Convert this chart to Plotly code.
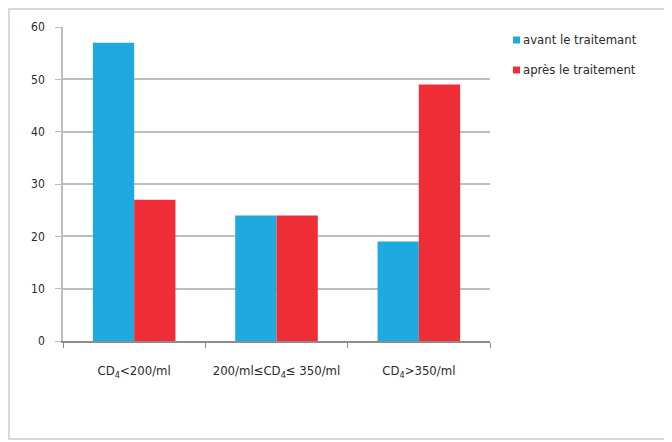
import plotly.graph_objects as go

categories = ["CD<sub>4</sub>&lt;200/ml", "200/ml≤CD<sub>4</sub>≤ 350/ml", "CD<sub>4</sub>&gt;350/ml"]
series_names = ["avant le traitemant", "après le traitement"]
avant = [57, 24, 19]
apres = [27, 24, 49]
colors = ["#1EA9E1", "#EE2D37"]
y_ticks = [0, 10, 20, 30, 40, 50, 60]

FONT = "DejaVu Sans Condensed, Liberation Sans Narrow, sans-serif"
TXT = "#2B2B2B"

OFF = 8  # page body margin offset
W, H = 672, 442
L, R, T, B = 63 - OFF, 182 + OFF, 27 - OFF, 101 + OFF
pw, ph = W - L - R, H - T - B

def px_x(px):
    return (px - OFF - L) / pw

def px_y(py):
    return (H - B - (py - OFF)) / ph

fig = go.Figure()
for name, vals, col in zip(series_names, [avant, apres], colors):
    fig.add_trace(go.Bar(x=categories, y=vals, name=name, marker=dict(color=col, line=dict(width=0)),
                         showlegend=False))

shapes = []
shapes.append(dict(type="rect", xref="paper", yref="paper",
                   x0=px_x(9), x1=px_x(668), y0=px_y(439), y1=px_y(9),
                   line=dict(color="#D9D9D9", width=2), fillcolor="rgba(0,0,0,0)", layer="below"))

annotations = []
leg_y = [40, 70]
for i, (name, col) in enumerate(zip(series_names, colors)):
    cy = leg_y[i]
    shapes.append(dict(type="rect", xref="paper", yref="paper",
                       x0=px_x(513), x1=px_x(520), y0=px_y(cy + 3.5), y1=px_y(cy - 3.5),
                       fillcolor=col, line=dict(width=0)))
    annotations.append(dict(xref="paper", yref="paper", x=px_x(521), y=px_y(cy),
                            xanchor="left", yanchor="middle", showarrow=False,
                            text=name, font=dict(family=FONT, size=13, color=TXT)))

fig.update_layout(
    width=W, height=H,
    margin=dict(l=L, r=R, t=T, b=B),
    paper_bgcolor="white", plot_bgcolor="white",
    barmode="group", bargap=0.42, bargroupgap=0,
    font=dict(family=FONT, size=12, color=TXT),
    shapes=shapes, annotations=annotations,
    xaxis=dict(showline=True, linecolor="#8C8C8C", linewidth=1.5,
               ticks="outside", tickson="boundaries", ticklen=5, tickcolor="#8C8C8C",
               ticklabelstandoff=17, showgrid=False,
               tickfont=dict(family=FONT, size=13, color=TXT)),
    yaxis=dict(range=[0, 60], tickvals=y_ticks, showgrid=True, gridcolor="#BDBDBD", gridwidth=1.5,
               showline=True, linecolor="#BDBDBD", linewidth=1.5,
               ticks="outside", ticklen=6, tickcolor="#BDBDBD", zeroline=False,
               ticklabelstandoff=8,
               tickfont=dict(family=FONT, size=12, color=TXT)),
)

fig.write_html("out.html")
